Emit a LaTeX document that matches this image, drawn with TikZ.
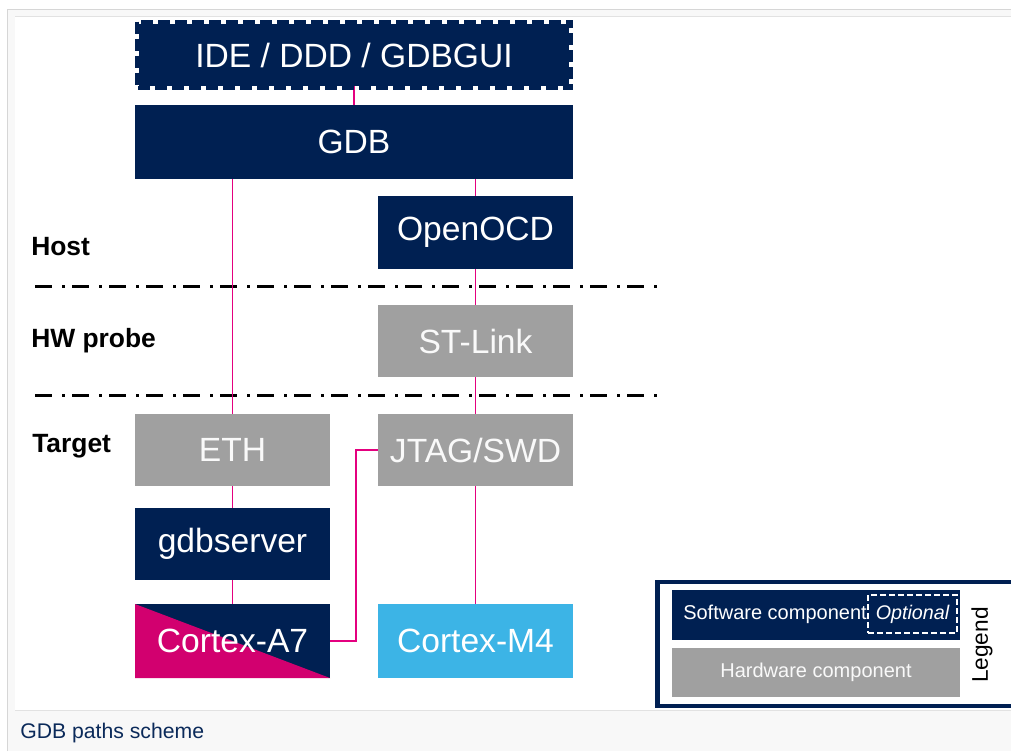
\documentclass[tikz,border=0pt]{standalone}
\usepackage{fontspec}
\setmainfont{Liberation Sans}
\usetikzlibrary{calc}
\definecolor{navy}{HTML}{002052}
\definecolor{hwgray}{HTML}{A0A0A0}
\definecolor{linkpink}{HTML}{E4007F}
\definecolor{a7pink}{HTML}{D2006F}
\definecolor{lblue}{HTML}{3CB4E6}
\definecolor{framebg}{HTML}{F8F8F8}
\definecolor{framel}{HTML}{D6D6D6}
\definecolor{innerl}{HTML}{E2E2E2}
\definecolor{capnavy}{HTML}{0B2A5A}
\begin{document}
\begin{tikzpicture}[x=0.75pt,y=-0.75pt,
  box/.style={rectangle, inner sep=0pt, text=white, font=\fontsize{25.2}{29}\selectfont,
    minimum width=146.25pt, minimum height=54pt},
  swbox/.style={box, fill=navy},
  hwbox/.style={box, fill=hwgray, text=white!95!gray},
  link/.style={draw=linkpink, line width=1.35pt},
  zone/.style={draw=black, line width=2.25pt, dash pattern=on 12.75pt off 7.5pt on 2.25pt off 5.25pt},
  zonelabel/.style={anchor=west, inner sep=0pt, font=\fontsize{19.8}{23}\selectfont\bfseries, text=black},
  optdash/.style={draw=navy, line width=3pt, dash pattern=on 9pt off 3.75pt},
  legtext/.style={inner sep=0pt, text=white, font=\fontsize{15}{18}\selectfont}
]
\useasboundingbox (0,0) rectangle (1011,751);
% page frame
\fill[framebg] (7,9.5) rectangle (1011,751);
\draw[framel, line width=0.75pt] (7,751) -- (7,9.5) -- (1011,9.5);
\fill[white] (15,16) rectangle (1011,710);
\draw[innerl, line width=0.75pt] (15,16) -- (1011,16);
\draw[innerl, line width=0.75pt] (15,710) -- (1011,710);

% zone separators
\draw[zone] (35,286) -- (657,286);
\draw[zone] (35,395) -- (657,395);
\node[zonelabel] (host) at (31,247) {Host};
\node[zonelabel] (probe) at (31,341) {HW probe};
\node[zonelabel] (target) at (32,446) {Target};

% components
\node[swbox, minimum width=322.5pt, minimum height=46.5pt] (ide) at (354,55) {IDE / DDD / GDBGUI};
\node[swbox, minimum width=328.5pt, minimum height=55.5pt] (gdb) at (354,142) {GDB};
\node[swbox, minimum height=54.75pt] (ocd) at (475.5,232.5) {OpenOCD};
\node[hwbox] (stl) at (475.5,341) {ST-Link};
\node[hwbox] (eth) at (232.5,450) {ETH};
\node[hwbox] (jtag) at (475.5,450) {JTAG/SWD};
\node[swbox] (gdbs) at (232.5,544) {gdbserver};
\node[box, minimum height=55.5pt,
  path picture={
    \fill[navy] (path picture bounding box.north west) rectangle (path picture bounding box.south east);
    \fill[a7pink] (path picture bounding box.north west) -- (path picture bounding box.south west) -- (path picture bounding box.south east) -- cycle;}
  ] (a7) at (232.5,641) {Cortex-A7};
\node[box, fill=lblue, minimum height=55.5pt] (m4) at (475.5,641) {Cortex-M4};

% links
\draw[link] (ide.south) -- (gdb.north);
\draw[link] (gdb.south -| eth.north) -- (eth.north);
\draw[link] (gdb.south -| ocd.north) -- (ocd.north);
\draw[link] (ocd.south) -- (stl.north);
\draw[link] (stl.south) -- (jtag.north);
\draw[link] (jtag.south) -- (m4.north);
\draw[link] (eth.south) -- (gdbs.north);
\draw[link] (gdbs.south) -- (a7.north);
\draw[link] (a7.east) -- ++(26,0) |- (jtag.west);

% optional (dashed) border of the IDE box
\draw[optdash] ([shift={(-2,-2)}]ide.north west) rectangle ([shift={(2,2)}]ide.south east);

% legend
\draw[navy, line width=3.4pt] (1014,582) -- (657.5,582) -- (657.5,706) -- (1014,706);
\node[rectangle, fill=navy, inner sep=0pt, minimum width=216pt, minimum height=37.5pt] (legsw) at (816,614.5) {};
\node[legtext] (legswt) at (775,614) {Software component};
\node[legtext, draw=white, line width=1.5pt, dash pattern=on 4.5pt off 2.25pt,
  minimum width=66.75pt, minimum height=28.5pt, font=\fontsize{14.8}{17}\selectfont\itshape] (legopt) at (912.5,614) {Optional};
\node[rectangle, fill=hwgray, inner sep=0pt, minimum width=216pt, minimum height=36.75pt,
  text=white!95!gray, font=\fontsize{15}{18}\selectfont] (leghw) at (816,672.5) {Hardware component};
\node[rotate=90, inner sep=0pt, text=black, font=\fontsize{17}{20}\selectfont] (legend) at (982,645) {Legend};

% caption
\node[anchor=base west, inner sep=0pt, text=capnavy, font=\fontsize{15.9}{19}\selectfont] (cap) at (20,738) {GDB paths scheme};
\end{tikzpicture}
\end{document}
